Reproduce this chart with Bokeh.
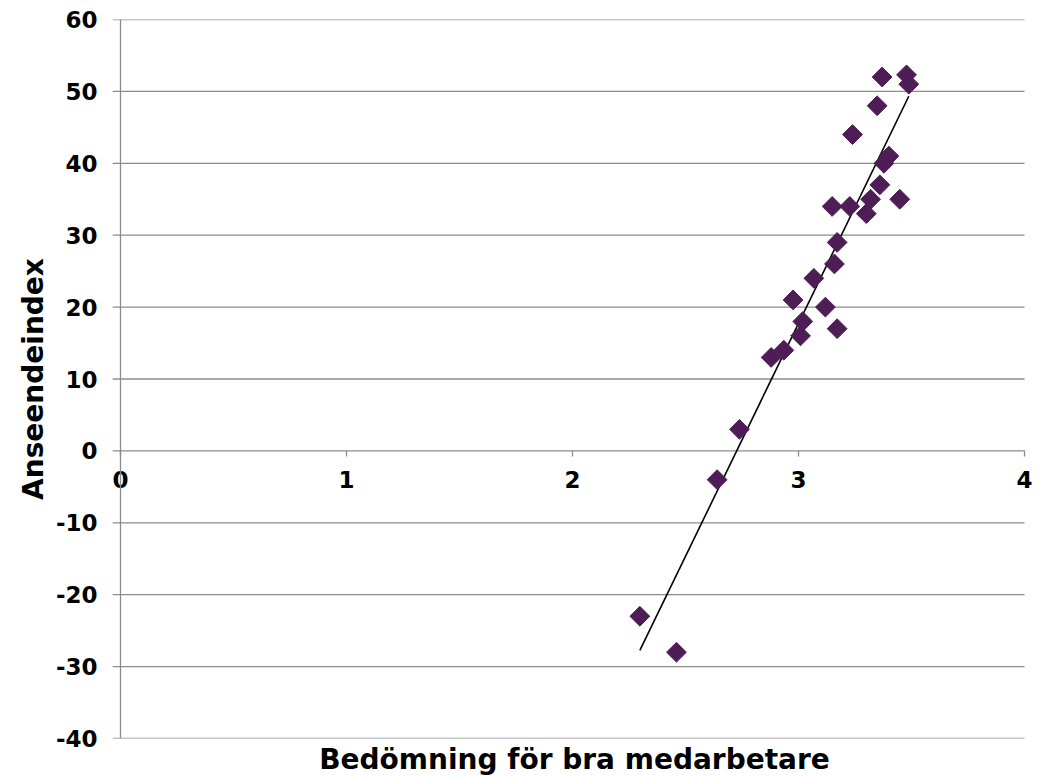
import numpy as np
from bokeh.plotting import figure
from bokeh.models import Title, FixedTicker, Range1d, Span, CustomJSTickFormatter
from bokeh.embed import file_html
from bokeh.resources import INLINE

# Data
bedomning = [3.370, 3.478, 3.488, 3.348, 3.239, 3.400, 3.378, 3.360, 3.448,
             3.149, 3.227, 3.319, 3.300, 3.171, 3.159, 3.068, 2.976, 3.119,
             3.019, 3.171, 3.009, 2.935, 2.879, 2.739, 2.640, 2.298, 2.460]
anseende = [52, 52.3, 51, 48, 44, 41, 40, 37, 35,
            34, 34, 35, 33, 29, 26, 24, 21, 20,
            18, 17, 16, 14, 13, 3, -4, -23, -28]

x_ticks = [0, 1, 2, 3, 4]
y_ticks = [-40, -30, -20, -10, 0, 10, 20, 30, 40, 50, 60]

x_title = "Bedömning för bra medarbetare"
y_title = "Anseendeindex"

FONT = "DejaVu Sans"
GRID = "#8c8c8c"
MARK = "#4e1d56"
TICK_SIZE = "23px"
TITLE_SIZE = "28px"

# pixel layout: x 0..4 spans 904px; extra room left (tick stubs) and right ("4" label)
PX_PER_UNIT = 904 / 4
LEFT_PAD_PX, RIGHT_PAD_PX = 8, 12
x_lo = x_ticks[0] - LEFT_PAD_PX / PX_PER_UNIT
x_hi = x_ticks[-1] + RIGHT_PAD_PX / PX_PER_UNIT

p = figure(output_backend="svg", toolbar_location=None,
           frame_width=904 + LEFT_PAD_PX + RIGHT_PAD_PX, frame_height=719,
           min_border_left=112, min_border_top=19,
           min_border_right=8, min_border_bottom=39,
           x_range=Range1d(x_lo, x_hi), y_range=Range1d(y_ticks[0], y_ticks[-1]))

p.outline_line_color = None
p.background_fill_color = "white"
p.border_fill_color = "white"
p.xgrid.visible = False
p.ygrid.visible = False

# horizontal grid lines (they also form the y tick stubs left of x = 0)
p.segment(x0=[x_lo] * len(y_ticks), y0=y_ticks,
          x1=[x_ticks[-1]] * len(y_ticks), y1=y_ticks,
          line_color=GRID, line_width=1.3)

# vertical axis line at x = 0
p.add_layout(Span(location=x_ticks[0], dimension="height",
                  line_color=GRID, line_width=1.3))

# x axis crossing at y = 0
xa = p.xaxis[0]
xa.fixed_location = 0
xa.ticker = FixedTicker(ticks=x_ticks)
xa.axis_line_color = None
xa.major_tick_line_color = GRID
xa.major_tick_line_width = 1.3
xa.major_tick_out = 6
xa.major_tick_in = 0
xa.minor_tick_line_color = None
xa.major_label_text_font = FONT
xa.major_label_text_font_style = "bold"
xa.major_label_text_font_size = TICK_SIZE
xa.major_label_text_color = "black"
xa.major_label_standoff = 14

# y axis (labels only; line and stubs drawn above)
ya = p.yaxis[0]
ya.ticker = FixedTicker(ticks=y_ticks)
ya.formatter = CustomJSTickFormatter(code="return tick.toString();")
ya.axis_line_color = None
ya.major_tick_line_color = None
ya.minor_tick_line_color = None
ya.major_tick_out = 0
ya.major_tick_in = 0
ya.major_label_text_font = FONT
ya.major_label_text_font_style = "bold"
ya.major_label_text_font_size = TICK_SIZE
ya.major_label_text_color = "black"
ya.major_label_standoff = 15
ya.axis_label = y_title
ya.axis_label_text_font = FONT
ya.axis_label_text_font_style = "bold"
ya.axis_label_text_font_size = TITLE_SIZE
ya.axis_label_text_color = "black"
ya.axis_label_standoff = 3

p.add_layout(Title(text=x_title, align="center", text_font=FONT,
                   text_font_style="bold", text_font_size=TITLE_SIZE,
                   text_color="black", standoff=4), "below")

# trend line (least squares fit of the data)
xs = np.array(bedomning)
ys = np.array(anseende)
k, m = np.polyfit(xs, ys, 1)
tx = np.array([xs.min(), xs.max()])
p.line(tx, k * tx + m, line_color="black", line_width=1.6)

# points
p.scatter(bedomning, anseende, marker="square", angle=np.pi / 4, size=14,
          fill_color=MARK, line_color=MARK)

open("out.html", "w").write(file_html(p, INLINE))
